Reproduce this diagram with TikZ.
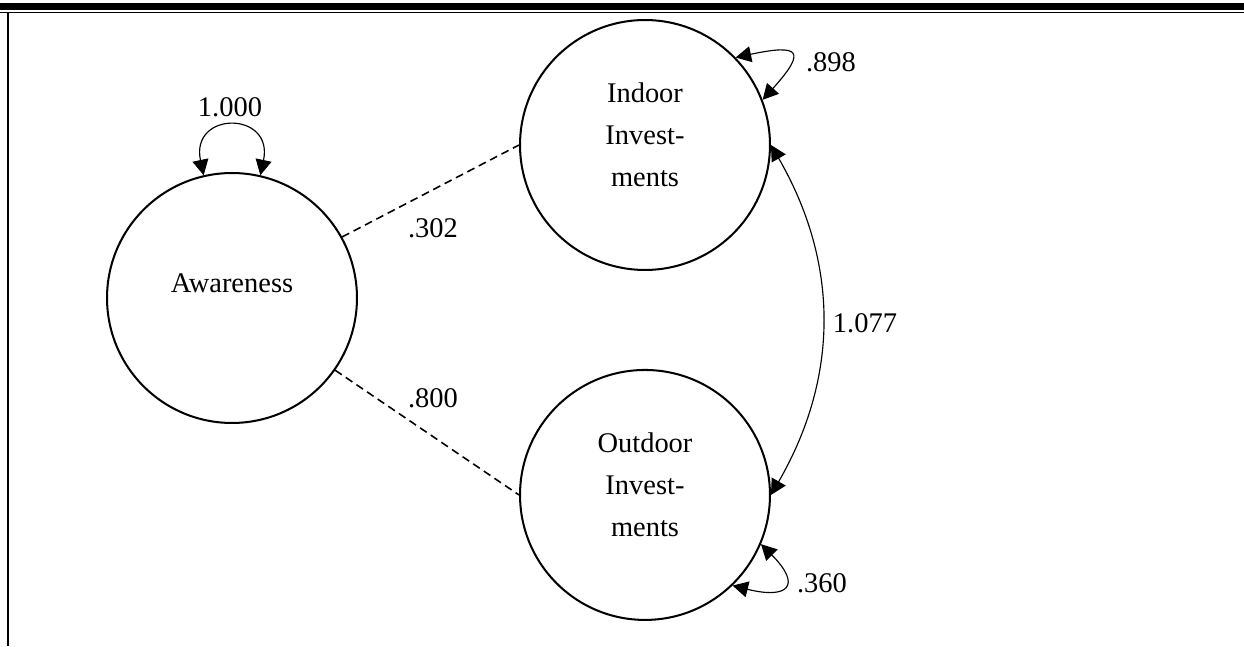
\documentclass[tikz,border=0pt]{standalone}
\usepackage{fontspec}
\setmainfont{Liberation Serif}
\usetikzlibrary{arrows.meta,positioning}

\begin{document}
\begin{tikzpicture}[x=0.02cm, y=0.02cm]
  \tikzstyle{latent} = [circle, draw, line width=1.15pt, minimum size=5cm, inner sep=0pt]
  \tikzstyle{lvtext} = [align=center, inner sep=0pt, font=\fontsize{16.2}{23.9}\selectfont]
  \tikzstyle{coef} = [inner sep=0pt, font=\fontsize{16.2}{19}\selectfont]
  \tikzstyle{load} = [dash pattern=on 4.5pt off 2.8pt, line width=0.9pt]
  \tikzstyle{cov} = [{Triangle[length=0.31cm,width=0.32cm]}-{Triangle[length=0.31cm,width=0.32cm]}, line width=0.65pt]
  \useasboundingbox (0,0) rectangle (1244,646);
  \fill (0,636) rectangle (1244,643);
  \draw[line width=0.75pt] (0,633.7) -- (1244,633.7);
  \draw[line width=1.1pt] (7.7,633.7) -- (7.7,0);
  \node[latent] (aware) at (232,348) {};
  \node[latent] (indoor) at (645,501) {};
  \node[latent, below=1.96cm of indoor] (outdoor) {};
  \node[lvtext] (awaretxt) at ([yshift=0.3cm]aware.center) {Awareness};
  \node[lvtext] (indoortxt) at ([yshift=0.2cm]indoor.center) {Indoor\\Invest-\\ments};
  \node[lvtext] (outdoortxt) at ([yshift=0.2cm]outdoor.center) {Outdoor\\Invest-\\ments};
  \draw[load] (aware.29) -- (indoor.180);
  \draw[load] (aware.-35) -- (outdoor.180);
  \draw[cov] (aware.103) .. controls +(102:66) and +(78:66) .. (aware.77);
  \draw[cov] (indoor.44) .. controls +(12:66) and +(48:66) .. (indoor.21);
  \draw[cov] (outdoor.-23) .. controls +(-45:58) and +(-14:58) .. (outdoor.-46);
  \draw[cov] (indoor.east) to[out=-60, in=60] (outdoor.east);
  \node[coef] (w302) at (433,418) {.302};
  \node[coef] (w800) at (433,248) {.800};
  \node[coef] (c1077) at (865,323) {1.077};
  \node[coef] (v1000) at (230,539) {1.000};
  \node[coef] (v898) at (831,584) {.898};
  \node[coef] (v360) at (822,63) {.360};
\end{tikzpicture}
\end{document}
